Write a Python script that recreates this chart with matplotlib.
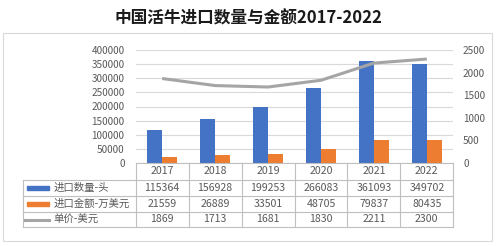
import numpy as np
import matplotlib.pyplot as plt
from matplotlib.lines import Line2D
from matplotlib.patches import Rectangle
from matplotlib.transforms import blended_transform_factory

plt.rcParams['font.family'] = ['Noto Sans CJK SC', 'DejaVu Sans']

years = ['2017', '2018', '2019', '2020', '2021', '2022']
quantity = [115364, 156928, 199253, 266083, 361093, 349702]
amount = [21559, 26889, 33501, 48705, 79837, 80435]
price = [1869, 1713, 1681, 1830, 2211, 2300]
series_names = ['进口数量-头', '进口金额-万美元', '单价-美元']
title = '中国活牛进口数量与金额2017-2022'

blue = '#4472C4'
orange = '#ED7D31'
gray = '#A5A5A5'
grid_col = '#D9D9D9'
txt_col = '#595959'

W, H = 496, 246
fig = plt.figure(figsize=(W / 100, H / 100), dpi=100)


def fx(px):
    return px / W


def fy(py):
    return 1 - py / H


# plot area in pixels
left, right, top, bottom = 135.7, 453.3, 50, 163

# outer frame and title
fig.add_artist(Rectangle((fx(3), fy(241)), fx(489), (241 - 33) / H,
                         transform=fig.transFigure, fill=False,
                         ec='#D9D9D9', lw=0.8))
fig.text(0.5, fy(18), title, ha='center', va='center', fontsize=12,
         fontweight='bold', color='#1a1a1a')

ax = fig.add_axes([fx(left), fy(bottom), fx(right - left), (bottom - top) / H])
x = np.arange(len(years))
bw = 0.28
ax.bar(x - bw / 2, quantity, bw, color=blue, zorder=3)
ax.bar(x + bw / 2, amount, bw, color=orange, zorder=3)
ax.set_xlim(-0.5, len(years) - 0.5)
ax.set_ylim(0, 400000)
ax.set_yticks(range(0, 400001, 50000))
ax.set_axisbelow(True)
ax.grid(axis='y', color=grid_col, lw=0.8)
ax.set_xticks([])
for s in ax.spines.values():
    s.set_visible(False)
ax.tick_params(axis='y', length=0, labelsize=7.2, labelcolor=txt_col, pad=8)

ax2 = ax.twinx()
ax2.plot(x, price, color=gray, lw=2.2, solid_capstyle='butt')
ax2.set_ylim(0, 2500)
ax2.set_yticks(range(0, 2501, 500))
for s in ax2.spines.values():
    s.set_visible(False)
ax2.tick_params(axis='y', length=0, labelsize=7.2, labelcolor=txt_col, pad=7)

# data table under the plot
tr = blended_transform_factory(ax.transData, fig.transFigure)
line_kw = dict(color='#BFBFBF', lw=0.8)
row_lines = [163, 180, 196, 212, 227]
n = len(years)
# horizontal lines
fig.add_artist(Line2D([-0.5, n - 0.5], [fy(163)] * 2, transform=tr, **line_kw))
for yy in row_lines[1:]:
    fig.add_artist(Line2D([fx(22.7), fx(right)], [fy(yy)] * 2,
                          transform=fig.transFigure, **line_kw))
# vertical lines
for i in range(n + 1):
    fig.add_artist(Line2D([i - 0.5] * 2, [fy(163), fy(227)], transform=tr, **line_kw))
fig.add_artist(Line2D([fx(22.7)] * 2, [fy(180), fy(227)],
                      transform=fig.transFigure, **line_kw))

row_centers = [171.5, 188, 204, 219.5]
for i, yr in enumerate(years):
    fig.text(i, fy(row_centers[0]), yr, transform=tr, ha='center',
             va='center', fontsize=7.6, color=txt_col)
for r, vals in enumerate([quantity, amount, price]):
    yc = fy(row_centers[r + 1])
    for i, v in enumerate(vals):
        fig.text(i, yc, str(v), transform=tr, ha='center', va='center',
                 fontsize=7.6, color=txt_col)

# row headers with legend keys
key_y = [fy(c) for c in row_centers[1:]]
fig.add_artist(Rectangle((fx(26.5), key_y[0] - 2 / H), fx(22), 4 / H,
                         transform=fig.transFigure, color=blue))
fig.add_artist(Rectangle((fx(26.5), key_y[1] - 2 / H), fx(22), 4 / H,
                         transform=fig.transFigure, color=orange))
fig.add_artist(Line2D([fx(25), fx(49)], [key_y[2]] * 2,
                      transform=fig.transFigure, color=gray, lw=2.2))
for name, yc in zip(series_names, key_y):
    fig.text(fx(53.5), yc, name, ha='left', va='center', fontsize=7.5,
             color=txt_col)

fig.savefig('out.png', dpi=100)
